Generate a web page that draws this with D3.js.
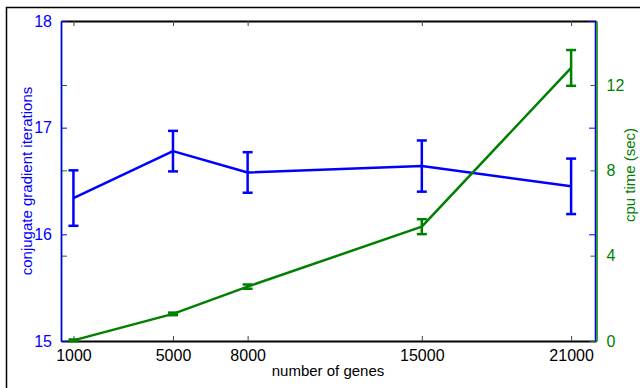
<!DOCTYPE html>
<html>
<head>
<meta charset="utf-8">
<script src="https://cdn.jsdelivr.net/npm/d3@7"></script>
<style>
  body { margin: 0; background: #fff; }
  svg { display: block; font-family: "Liberation Sans", Arial, sans-serif; }
</style>
</head>
<body>
<svg id="chart" width="640" height="388"></svg>
<script>
const genes = [1000, 5000, 8000, 15000, 21000];
const iterMean = [16.34, 16.78, 16.58, 16.64, 16.45];
const iterErr = [0.26, 0.19, 0.19, 0.24, 0.26];
const cpuMean = [0.03, 1.27, 2.55, 5.36, 12.8];
const cpuErr = [0.04, 0.06, 0.1, 0.35, 0.84];
const iterTicks = [15, 16, 17, 18];
const cpuTicks = [0, 4, 8, 12];

const svg = d3.select("#chart");
const blue = "#0000ff", green = "#008000";
const fontFam = "Liberation Sans, Arial, sans-serif";

const pLeft = 61, pRight = 595, pTop = 21, pBottom = 341;

const xScale = d3.scaleLinear().domain([500, 22000]).range([pLeft, pRight + 1]);
const yIter = d3.scaleLinear().domain([15, 18]).range([pBottom, pTop]);
const yCpu = d3.scaleLinear().domain([0, 15]).range([pBottom, pTop]);

// outer frame (cut off on right/bottom)
svg.append("rect")
    .attr("x", 6.5).attr("y", 7.5)
    .attr("width", 700).attr("height", 500)
    .attr("fill", "none").attr("stroke", "#000").attr("stroke-width", 1.5);

// x axes top and bottom
const xBottom = d3.axisBottom(xScale).tickValues(genes).tickSizeInner(-5).tickSizeOuter(0)
    .tickFormat(d3.format("d")).tickPadding(9);
const gxb = svg.append("g").attr("transform", "translate(0," + pBottom + ")").call(xBottom);
gxb.attr("font-size", 16).attr("font-family", fontFam);
gxb.select(".domain").attr("stroke", "#000").attr("stroke-width", 2);
gxb.selectAll(".tick line").attr("stroke", "#444");
gxb.selectAll(".tick text").attr("fill", "#000");

const xTop = d3.axisTop(xScale).tickValues(genes).tickSizeInner(-5).tickSizeOuter(0).tickFormat("");
const gxt = svg.append("g").attr("transform", "translate(0," + pTop + ")").call(xTop);
gxt.select(".domain").attr("stroke", "#000").attr("stroke-width", 2);
gxt.selectAll(".tick line").attr("stroke", "#444");

// mirrored cpu ticks on the left, iteration ticks on the right
const gCpuLeft = svg.append("g").attr("transform", "translate(" + pLeft + ",0)")
    .call(d3.axisLeft(yCpu).tickValues(cpuTicks).tickSizeInner(-6).tickSizeOuter(0).tickFormat(""));
gCpuLeft.select(".domain").attr("stroke", green).attr("stroke-width", 1.5);
gCpuLeft.selectAll(".tick line").attr("stroke", green);

const gIterRight = svg.append("g").attr("transform", "translate(" + pRight + ",0)")
    .call(d3.axisRight(yIter).tickValues(iterTicks).tickSizeInner(-6).tickSizeOuter(0).tickFormat(""));
gIterRight.select(".domain").attr("stroke", blue).attr("stroke-width", 1.5);
gIterRight.selectAll(".tick line").attr("stroke", blue);

// left axis (iterations)
const gyl = svg.append("g").attr("transform", "translate(" + pLeft + ",0)")
    .call(d3.axisLeft(yIter).tickValues(iterTicks).tickFormat(d3.format("d"))
        .tickSizeInner(-6).tickSizeOuter(0).tickPadding(9));
gyl.attr("font-size", 16).attr("font-family", fontFam);
gyl.select(".domain").attr("stroke", blue).attr("stroke-width", 1.5);
gyl.selectAll(".tick line").attr("stroke", blue);
gyl.selectAll(".tick text").attr("fill", blue);

// right axis (cpu)
const gyr = svg.append("g").attr("transform", "translate(" + (pRight + 1.5) + ",0)")
    .call(d3.axisRight(yCpu).tickValues(cpuTicks).tickFormat(d3.format("d"))
        .tickSizeInner(-6).tickSizeOuter(0).tickPadding(10));
gyr.attr("font-size", 16).attr("font-family", fontFam);
gyr.select(".domain").attr("stroke", green).attr("stroke-width", 1.5);
gyr.selectAll(".tick line").attr("stroke", green);
gyr.selectAll(".tick text").attr("fill", green);

// axis titles
svg.append("text").attr("x", (pLeft + pRight) / 2).attr("y", 376)
    .attr("text-anchor", "middle").attr("font-size", 15).attr("fill", "#000")
    .text("number of genes");
svg.append("text").attr("transform", "translate(32,181) rotate(-90)")
    .attr("text-anchor", "middle").attr("font-size", 15).attr("fill", blue)
    .text("conjugate gradient iterations");
svg.append("text").attr("transform", "translate(635,175) rotate(-90)")
    .attr("text-anchor", "middle").attr("font-size", 15).attr("fill", green)
    .text("cpu time (sec)");

function series(mean, err, yScale, color) {
    const pts = genes.map((g, i) => ({ x: g, m: mean[i], e: err[i] }));
    const g = svg.append("g");
    g.append("path").datum(pts)
        .attr("fill", "none").attr("stroke", color).attr("stroke-width", 2.5)
        .attr("stroke-linejoin", "round")
        .attr("d", d3.line().x(d => xScale(d.x)).y(d => yScale(d.m)));
    const eb = g.selectAll("g.err").data(pts).join("g").attr("class", "err")
        .attr("stroke", color).attr("stroke-width", 2.5);
    eb.append("line")
        .attr("x1", d => xScale(d.x)).attr("x2", d => xScale(d.x))
        .attr("y1", d => yScale(d.m - d.e)).attr("y2", d => yScale(d.m + d.e));
    eb.append("line")
        .attr("x1", d => xScale(d.x) - 5).attr("x2", d => xScale(d.x) + 5)
        .attr("y1", d => yScale(d.m + d.e)).attr("y2", d => yScale(d.m + d.e));
    eb.append("line")
        .attr("x1", d => xScale(d.x) - 5).attr("x2", d => xScale(d.x) + 5)
        .attr("y1", d => yScale(d.m - d.e)).attr("y2", d => yScale(d.m - d.e));
}

series(iterMean, iterErr, yIter, blue);
series(cpuMean, cpuErr, yCpu, green);
</script>
</body>
</html>
